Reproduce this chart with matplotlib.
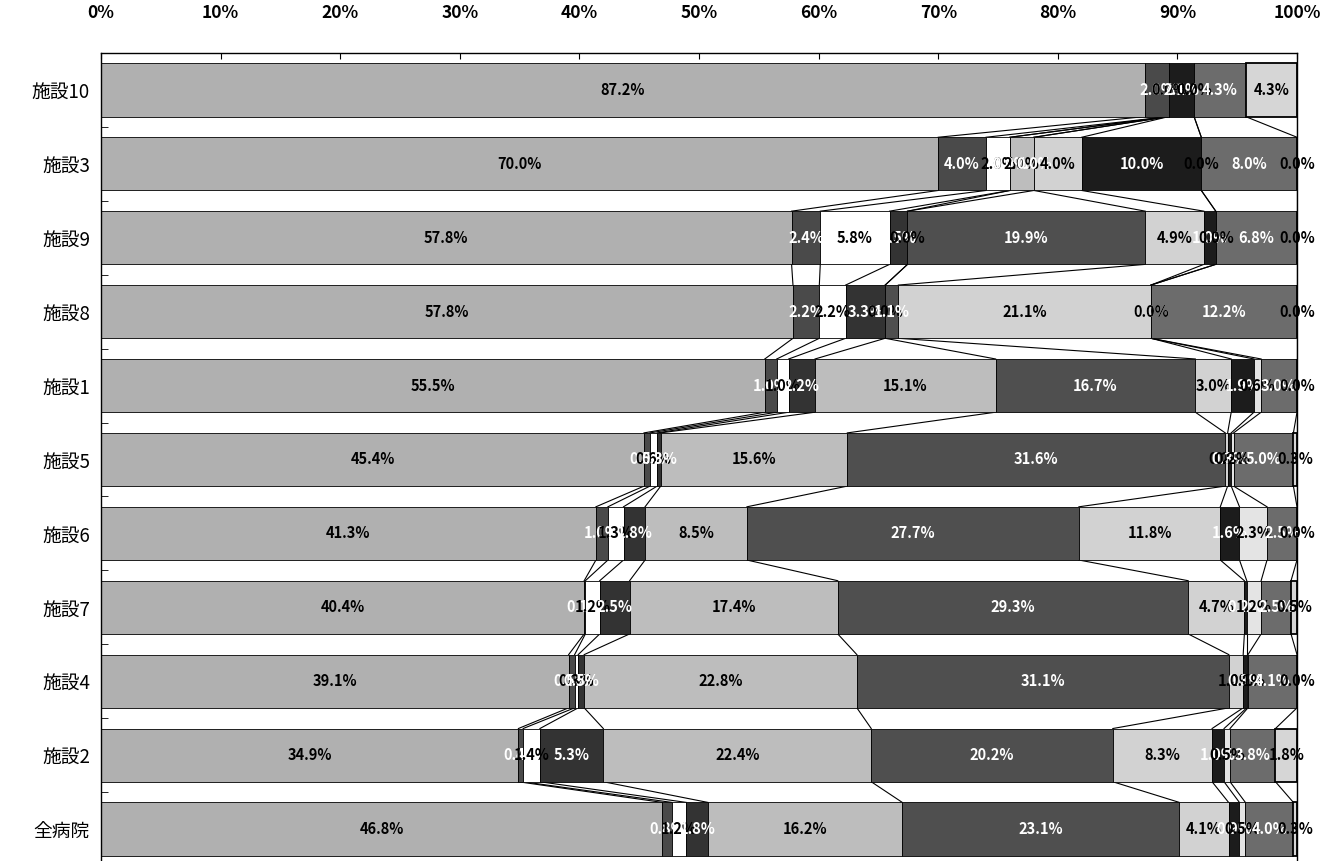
import numpy as np
import matplotlib
matplotlib.use("Agg")
import matplotlib.pyplot as plt

plt.rcParams['font.family'] = ['Noto Sans CJK JP', 'DejaVu Sans']

categories = ['施設10', '施設3', '施設9', '施設8', '施設1', '施設5', '施設6', '施設7', '施設4', '施設2', '全病院']

s1 = [87.2, 70.0, 57.8, 57.8, 55.5, 45.4, 41.3, 40.4, 39.1, 34.9, 46.8]
s2 = [2.0, 4.0, 2.4, 2.2, 1.0, 0.5, 1.0, 0.1, 0.5, 0.4, 0.8]
s3 = [0.0, 2.0, 5.8, 2.2, 1.0, 0.6, 1.3, 1.2, 0.3, 1.4, 1.2]
s4 = [0.0, 0.0, 1.5, 3.3, 2.2, 0.3, 1.8, 2.5, 0.5, 5.3, 1.8]
s5 = [0.0, 2.0, 0.0, 0.0, 15.1, 15.6, 8.5, 17.4, 22.8, 22.4, 16.2]
s6 = [0.0, 0.0, 19.9, 1.1, 16.7, 31.6, 27.7, 29.3, 31.1, 20.2, 23.1]
s7 = [0.0, 4.0, 4.9, 21.1, 3.0, 0.2, 11.8, 4.7, 1.2, 8.3, 4.1]
s8 = [2.1, 10.0, 1.0, 0.0, 1.9, 0.3, 1.6, 0.2, 0.3, 1.0, 0.9]
s9 = [0.0, 0.0, 0.0, 0.0, 0.6, 0.2, 2.3, 1.2, 0.1, 0.5, 0.5]
s10 = [4.3, 8.0, 6.8, 12.2, 3.0, 5.0, 2.5, 2.5, 4.1, 3.8, 4.0]
s11 = [4.3, 0.0, 0.0, 0.0, 0.0, 0.3, 0.0, 0.5, 0.0, 1.8, 0.3]

xticklabels = ['0%', '10%', '20%', '30%', '40%', '50%', '60%', '70%', '80%', '90%', '100%']

series = [s1, s2, s3, s4, s5, s6, s7, s8, s9, s10, s11]
colors = ['#b0b0b0', '#4a4a4a', '#ffffff', '#333333', '#bdbdbd', '#4f4f4f',
          '#d2d2d2', '#1c1c1c', '#e4e4e4', '#6c6c6c', '#d6d6d6']
txtcolors = ['black', 'white', 'black', 'white', 'black', 'white',
             'black', 'white', 'black', 'white', 'black']

data = np.array(series, dtype=float)          # (nseries, nrows)
totals = data.sum(axis=0)
pct = data / totals * 100.0
cum = np.cumsum(pct, axis=0)
left = cum - pct

fig = plt.figure(figsize=(13.22, 8.61), dpi=100)
W, H = 1322, 861
ax_top = 53
ax_h = 813
ax = fig.add_axes([101 / W, (H - ax_top - ax_h) / H, 1196 / W, ax_h / H])

n = len(categories)
y = np.arange(n)
bh = 0.72

for k in range(len(series)):
    lw = 1.3 if k == len(series) - 1 else 0.6
    ax.barh(y, pct[k], left=left[k], height=bh, color=colors[k],
            edgecolor='black', linewidth=lw, zorder=2)

# series lines
for i in range(n - 1):
    for k in range(len(series)):
        ax.plot([cum[k, i], cum[k, i + 1]], [i + bh / 2, i + 1 - bh / 2],
                color='black', linewidth=0.8, zorder=1)

# data labels
for k in range(len(series)):
    for i in range(n):
        v = data[k, i]
        ax.text(left[k, i] + pct[k, i] / 2, y[i], f'{v:.1f}%',
                ha='center', va='center', fontsize=10.5, fontweight='bold',
                color=txtcolors[k], zorder=4)

ax.set_xlim(0, 100)
ax.set_ylim(n - 0.5, -0.5)
ax.xaxis.tick_top()
ax.set_xticks(np.arange(0, 101, 10))
ax.set_xticklabels(xticklabels, fontsize=12.5, fontweight='bold')
ax.tick_params(axis='x', direction='in', length=4, pad=22, top=True, bottom=False)
ax.set_yticks(y)
ax.set_yticklabels(categories, fontsize=13.5)
ax.set_yticks(np.arange(-0.5, n, 1.0), minor=True)
ax.tick_params(axis='y', which='major', length=0, pad=8)
ax.tick_params(axis='y', which='minor', direction='in', length=5)
for side in ['left', 'right', 'top']:
    ax.spines[side].set_color('black')
    ax.spines[side].set_linewidth(1.0)
ax.spines['bottom'].set_visible(False)

fig.savefig('out.png', dpi=100)
